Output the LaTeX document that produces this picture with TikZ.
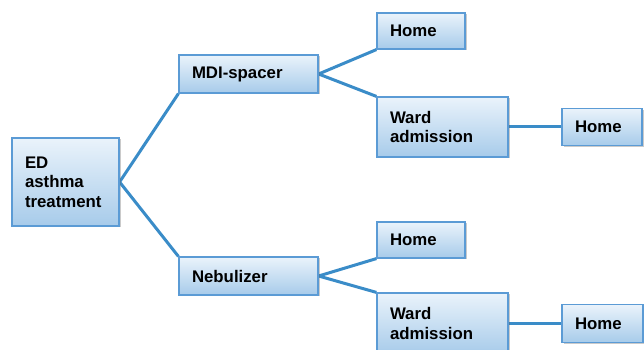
\documentclass[tikz,border=0pt]{standalone}
\usepackage{fontspec}
\setmainfont{Liberation Sans}
\usetikzlibrary{shadows,backgrounds}
\definecolor{boxline}{HTML}{5B9BD5}
\definecolor{boxtop}{HTML}{EAF3FB}
\definecolor{boxbot}{HTML}{A7CBEA}
\definecolor{conn}{HTML}{3A8CC8}
\tikzset{
  box/.style={draw=boxline, line width=1.2pt, top color=boxtop, bottom color=boxbot,
    drop shadow={shadow xshift=1.5pt, shadow yshift=-1.5pt, opacity=0.35, fill=black!60},
    inner xsep=13pt, inner ysep=2pt, align=left,
    font=\fontsize{16.8}{19.5}\selectfont\bfseries, text=black},
  conn/.style={draw=conn, line width=3pt}
}
\begin{document}
\begin{tikzpicture}[x=1pt,y=1pt]
\useasboundingbox (0,0) rectangle (644,350);
\node[box, text width=81pt, minimum height=88pt] (ed) at (65.5,168) {ED\\asthma\\treatment};
\node[box, text width=113pt, minimum height=38pt] (mdi) at (248.5,276) {MDI-spacer};
\node[box, text width=62pt, minimum height=36pt] (h1) at (421,319) {Home};
\node[box, text width=105pt, minimum height=60pt] (w1) at (442.5,223) {Ward\\admission};
\node[box, text width=54pt, minimum height=37pt] (h2) at (602,223) {Home};
\node[box, text width=113pt, minimum height=38pt] (neb) at (248.5,74) {Nebulizer};
\node[box, text width=62pt, minimum height=36pt] (h3) at (421,110) {Home};
\node[box, text width=105pt, minimum height=61pt] (w2) at (442.5,26.5) {Ward\\admission};
\node[box, text width=55pt, minimum height=38pt] (h4) at (602.5,26.5) {Home};
\begin{scope}[on background layer]
\draw[conn] (mdi.south west) -- (ed.east) -- (neb.north west);
\draw[conn] (h1.south west) -- (mdi.east) -- (w1.north west);
\draw[conn] (h3.south west) -- (neb.east) -- (w2.north west);
\draw[conn] (w1.east) -- (h2.west);
\draw[conn] (w2.east) -- (h4.west);
\end{scope}
\end{tikzpicture}
\end{document}
